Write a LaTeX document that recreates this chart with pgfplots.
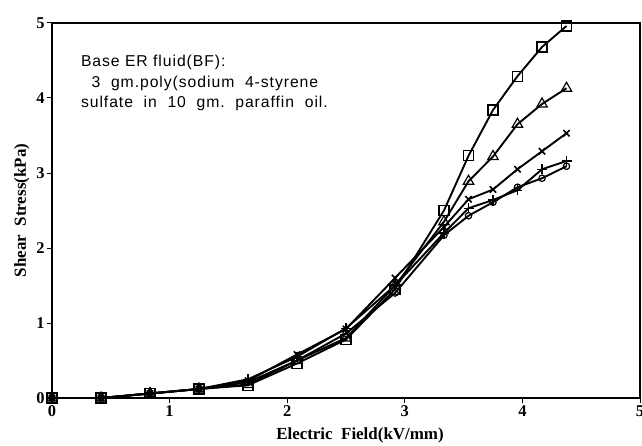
\documentclass[border=0pt]{standalone}
\usepackage{fontspec}
\setmainfont{Liberation Serif}
\newfontfamily\arial[LetterSpace=6]{Liberation Sans}
\usepackage{pgfplots}
\pgfplotsset{compat=1.18}

\pgfplotstableread{
x      sq    tri   cr    pl    ci
0      0     0     0     0     0
0.417  0     0     0     0     0
0.833  0.06  0.06  0.06  0.06  0.06
1.25   0.12  0.12  0.12  0.12  0.12
1.667  0.17  0.18  0.23  0.25  0.21
2.083  0.46  0.50  0.58  0.55  0.50
2.5    0.78  0.80  0.92  0.93  0.86
2.917  1.45  1.50  1.60  1.50  1.40
3.333  2.50  2.35  2.28  2.20  2.17
3.542  3.23  2.89  2.65  2.53  2.43
3.75   3.84  3.22  2.78  2.64  2.61
3.958  4.29  3.65  3.05  2.77  2.81
4.167  4.68  3.92  3.29  3.05  2.93
4.375  4.96  4.13  3.53  3.16  3.09
}\data

\begin{document}
\begin{tikzpicture}[x=1bp,y=1bp]
\begin{axis}[
  at={(52bp,48bp)}, anchor=south west,
  width=588bp, height=375bp, scale only axis,
  xmin=0, xmax=5, ymin=0, ymax=5,
  xtick={0,1,2,3,4,5}, ytick={0,1,2,3,4,5},
  tick align=outside, major tick length=5bp,
  xtick pos=bottom, ytick pos=left,
  axis line style={line width=1.3pt},
  tick style={line width=1pt, black},
  /pgf/number format/assume math mode=true,
  tick label style={font=\fontsize{16.5}{16.5}\selectfont\bfseries},
  xticklabel style={yshift=1bp},
  yticklabel style={xshift=1bp},
  xlabel={Electric\ \ Field(kV/mm)},
  ylabel={Shear\ \ Stress(kPa)},
  label style={font=\fontsize{17}{17}\selectfont\bfseries},
  xlabel style={yshift=-4bp, xshift=14bp},
  ylabel style={yshift=0bp},
  every axis plot/.append style={line width=1.9pt, black},
  clip=false,
]
\addplot[mark=square, mark size=5bp, mark options={fill=white, line width=1.2pt}] table[x=x,y=sq] {\data};
\addplot[mark=triangle, mark size=6bp, mark options={fill=white, line width=1.2pt}] table[x=x,y=tri] {\data};
\addplot[mark=x, mark size=4.5bp, mark options={line width=1.5pt}] table[x=x,y=cr] {\data};
\addplot[mark=+, mark size=5bp, mark options={line width=1.3pt}] table[x=x,y=pl] {\data};
\addplot[mark=o, mark size=3.2bp, mark options={fill=white, line width=1.2pt}] table[x=x,y=ci] {\data};
\node[anchor=west, align=left, font=\arial\fontsize{15.8}{20.5}\selectfont, inner sep=0pt]
  at (axis cs:0.245,4.2) {Base\ ER\ fluid(BF):\\
  \ \ 3\ \ gm.poly(sodium\ \ 4-styrene\\
  sulfate\ \ in\ \ 10\ \ gm.\ \ paraffin\ \ oil.};
\end{axis}
\pgfresetboundingbox
\path[use as bounding box] (0,0) rectangle (642bp,446bp);
\end{tikzpicture}
\end{document}
